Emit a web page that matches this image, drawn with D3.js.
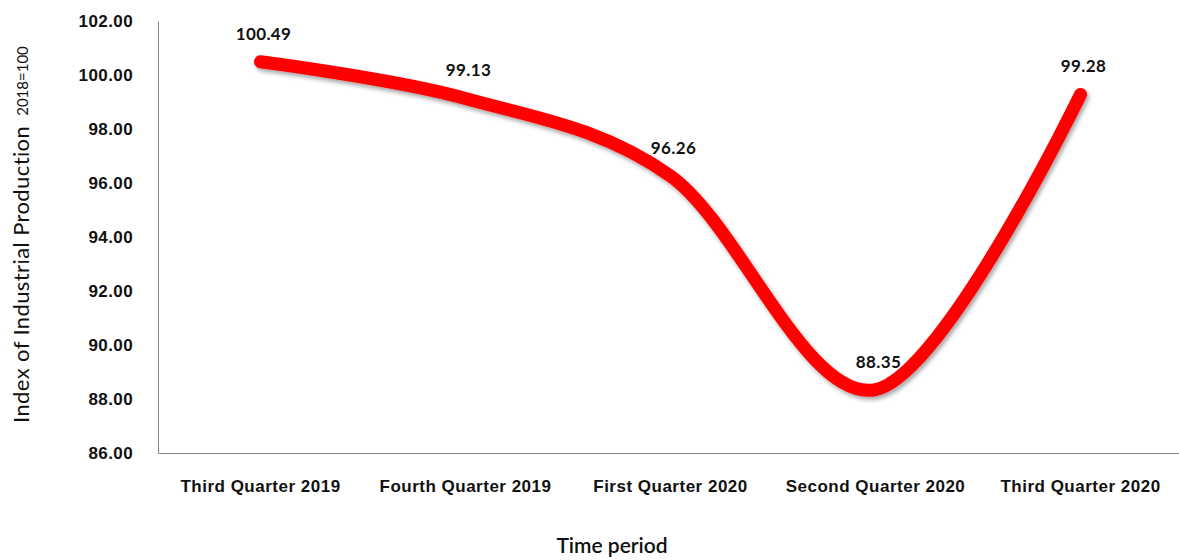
<!DOCTYPE html>
<html>
<head>
<meta charset="utf-8">
<script src="https://cdn.jsdelivr.net/npm/d3@7"></script>
<style>
  body { margin: 0; background: #fff; }
  svg { font-family: Lato, "Open Sans", sans-serif; }
  .axis path, .axis line { stroke: #888; }
</style>
</head>
<body>
<svg id="chart" width="1179" height="560"></svg>
<script>
// chart data
const categories = ['Third Quarter 2019', 'Fourth Quarter 2019', 'First Quarter 2020', 'Second Quarter 2020', 'Third Quarter 2020'];
const values = [100.49, 99.13, 96.26, 88.35, 99.28];
const yTicks = [86, 88, 90, 92, 94, 96, 98, 100, 102];

const svg = d3.select('#chart');
const margin = { left: 158, right: -4, top: 21, bottom: 107 };
const width = 1179 - margin.left - margin.right;
const height = 560 - margin.top - margin.bottom;

const g = svg.append('g').attr('transform', `translate(${margin.left},${margin.top})`);

const xScale = d3.scaleBand().domain(categories).range([0, width]);
const yScale = d3.scaleLinear().domain([86, 102]).range([height, 0]);

// shadow for the line, like the excel one
const defs = svg.append('defs');
const filt = defs.append('filter').attr('id', 'shadow')
  .attr('x', '-10%').attr('y', '-10%').attr('width', '120%').attr('height', '120%');
filt.append('feDropShadow').attr('dx', 2).attr('dy', 3).attr('stdDeviation', 2)
  .attr('flood-color', '#000').attr('flood-opacity', 0.35);

// y axis
const yAxis = d3.axisLeft(yScale).tickValues(yTicks).tickSize(0).tickPadding(25)
  .tickFormat(d3.format('.2f'));
g.append('g').attr('class', 'axis y-axis').call(yAxis)
  .call(s => s.selectAll('text').attr('font-size', 17).attr('font-weight', 'bold')
    .attr('letter-spacing', 0.4).attr('fill', '#111'));

// x axis
const xAxis = d3.axisBottom(xScale).tickSize(0).tickPadding(27);
g.append('g').attr('class', 'axis x-axis').attr('transform', `translate(0,${height})`).call(xAxis)
  .call(s => s.selectAll('text').attr('font-size', 17).attr('font-weight', 'bold')
    .attr('letter-spacing', 0.5).attr('fill', '#111'));

// smooth line
const lineGenerator = d3.line()
  .x((d, i) => xScale(categories[i]) + xScale.bandwidth() / 2)
  .y(d => yScale(d))
  .curve(d3.curveCardinal.tension(0));

g.append('path')
  .datum(values)
  .attr('fill', 'none')
  .attr('stroke', '#ff0000')
  .attr('stroke-width', 13)
  .attr('stroke-linecap', 'round')
  .attr('filter', 'url(#shadow)')
  .attr('d', lineGenerator);

// data labels
g.selectAll('.lbl')
  .data(values)
  .join('text')
  .attr('class', 'lbl')
  .attr('x', (d, i) => xScale(categories[i]) + xScale.bandwidth() / 2 + 3)
  .attr('y', d => yScale(d) - 22)
  .attr('text-anchor', 'middle')
  .attr('font-size', 17)
  .attr('font-weight', 'bold')
  .attr('letter-spacing', 0.4)
  .attr('fill', '#111')
  .text(d => d.toFixed(2));

// axis titles
const yTitle = svg.append('text')
  .attr('transform', 'translate(29,423) rotate(-90)')
  .attr('fill', '#111');
yTitle.append('tspan').attr('font-size', 22).attr('letter-spacing', 0.4).text('Index of Industrial Production');
yTitle.append('tspan').attr('font-size', 15).attr('dx', 10).attr('dy', -1).text('2018=100');

svg.append('text')
  .attr('x', 612)
  .attr('y', 553)
  .attr('text-anchor', 'middle')
  .attr('font-size', 21)
  .attr('font-weight', 600)
  .attr('fill', '#111')
  .text('Time period');
</script>
</body>
</html>
